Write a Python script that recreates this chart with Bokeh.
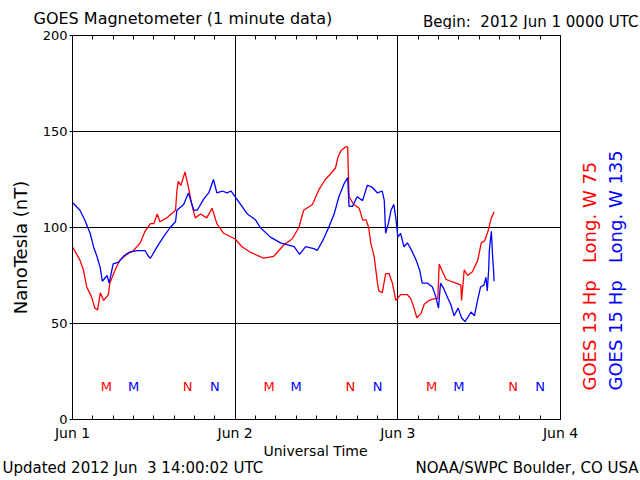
import math
from bokeh.plotting import figure
from bokeh.models import FixedTicker, LinearAxis, Label, Range1d, Grid
from bokeh.layouts import column, row
from bokeh.embed import file_html
from bokeh.resources import INLINE
from bokeh.core.properties import value

FONT = "DejaVu Sans"
NB = "\u00a0"

# hours since 2012 Jun 1 00:00 UTC
g13_hours = [0, 1.1, 1.6, 2.1, 2.8, 3.3, 3.7, 4.1, 4.6, 5.3, 5.5, 6.3, 7.0, 8.0, 9.0, 10.0,
             10.7, 11.5, 12.0, 12.5, 12.9, 13.9, 15.2, 15.4, 15.6, 16.0, 16.6, 17.1, 17.6,
             18.1, 18.9, 19.8, 20.6, 21.3, 22.3, 24.0, 25.0, 26.3, 27.6, 28.2, 29.7, 31.2,
             32.4, 33.4, 34.1, 35.4, 36.4, 37.3, 38.1, 38.8, 39.2, 39.6, 40.3, 40.6, 40.8,
             41.5, 42.3, 42.8, 43.3, 43.7, 44.0, 44.5, 45.0, 45.2, 45.7, 46.2, 46.7, 47.2,
             47.7, 48.4, 49.4, 49.9, 50.4, 50.8, 51.4, 51.9, 52.6, 53.4, 53.9, 54.1, 54.6,
             55.1, 55.8, 56.6, 57.3, 57.4, 57.6, 57.8, 58.3, 59.0, 59.8, 60.3, 60.8, 61.3,
             61.8, 62.2]
g13_nt = [90, 83, 78, 69, 64, 58, 57, 66, 62, 65, 71, 78, 83, 86, 88, 92,
          98, 102, 102, 107, 103, 105, 109, 119, 124, 122, 129, 121, 112,
          105, 107, 105, 110, 102, 97, 94, 90, 87, 85, 84, 85, 91,
          94, 100, 109, 112, 120, 125, 128, 131, 137, 140, 142, 142, 116,
          112, 110, 104, 104, 100, 92, 85, 71, 67, 66, 76, 76, 71,
          62, 65, 65, 63, 58, 53, 55, 60, 62, 63, 63, 81, 77,
          73, 72, 71, 70, 62, 70, 78, 75, 77, 83, 92, 93, 98,
          105, 108]

g15_hours = [0, 1.1, 1.8, 2.6, 3.1, 3.6, 4.1, 4.4, 5.1, 5.4, 6.0, 6.8, 7.5, 8.3, 9.5, 10.7,
             11.2, 11.5, 12.5, 13.4, 14.4, 15.2, 15.4, 16.4, 17.1, 17.9, 18.4, 19.4, 20.1,
             20.8, 21.3, 22.1, 22.8, 23.4, 24.0, 24.8, 25.8, 27.0, 27.7, 29.2, 30.7, 32.7,
             33.5, 34.4, 35.6, 36.1, 36.9, 37.8, 38.6, 39.3, 40.1, 40.6, 40.8, 41.3, 42.0,
             42.8, 43.5, 44.2, 45.0, 45.7, 46.0, 46.2, 46.6, 47.0, 47.4, 47.7, 48.0, 48.4,
             48.9, 49.4, 49.9, 50.7, 51.2, 51.6, 52.4, 53.1, 53.6, 54.0, 54.3, 54.8, 55.4,
             55.8, 56.3, 56.9, 57.4, 57.9, 58.3, 58.8, 59.3, 59.7, 60.2, 60.7, 61.0, 61.2,
             61.4, 61.5, 61.8, 62.0, 62.1, 62.2]
g15_nt = [113, 109, 104, 97, 90, 85, 79, 72, 75, 71, 81, 82, 85, 87, 88, 88,
          85, 84, 90, 95, 100, 103, 109, 112, 118, 109, 109, 115, 118,
          125, 118, 119, 118, 119, 116, 112, 107, 104, 100, 95, 92, 90,
          86, 90, 89, 88, 93, 100, 107, 116, 123, 126, 111, 111, 116,
          114, 122, 121, 118, 119, 114, 97, 102, 109, 112, 105, 95, 97,
          90, 92, 89, 83, 78, 71, 71, 69, 64, 58, 71, 68, 63,
          60, 54, 58, 53, 51, 53, 56, 54, 61, 69, 70, 74, 67,
          78, 88, 98, 84, 79, 72]

# local midnight (M) / noon (N) markers, hours
m13_hours = [5, 29, 53]
m15_hours = [9, 33, 57]
n13_hours = [17, 41, 65]
n15_hours = [21, 45, 69]
marker_level = 17

day_ticks = [0, 24, 48, 72]
day_labels = ["Jun 1", "Jun 2", "Jun 3", "Jun 4"]
y_ticks = [0, 50, 100, 150, 200]

RED = "#ff0000"
BLUE = "#0000ff"

W, H = 640, 480
FRAME_TOP, FRAME_BOTTOM = 35, 419          # canvas rows of the plot frame
TOP_H = 29
MAIN_TOP_BORDER = FRAME_TOP - TOP_H
MAIN_BOTTOM_BORDER = 24
MID_H = MAIN_TOP_BORDER + (FRAME_BOTTOM - FRAME_TOP) + MAIN_BOTTOM_BORDER
BOT_H = H - TOP_H - MID_H
LEFT_W, RIGHT_W = 35, 60
MAIN_W = W - LEFT_W - RIGHT_W


def blank(width, height):
    f = figure(width=width, height=height, output_backend="svg", toolbar_location=None,
               x_range=Range1d(0, 1), y_range=Range1d(0, 1), min_border=0,
               x_axis_location=None, y_axis_location=None)
    f.xgrid.visible = False
    f.ygrid.visible = False
    f.outline_line_color = None
    f.background_fill_color = "white"
    f.border_fill_color = "white"
    return f


def lab(f, x, y, text, size, align="left", color="black", angle=0.0):
    f.add_layout(Label(x=x, y=y, x_units="screen", y_units="screen", text=text,
                       text_font=FONT, text_font_size=size, text_align=align,
                       text_baseline="middle", text_color=color, angle=angle))


# ---- main plot ----
p = figure(width=MAIN_W, height=MID_H, output_backend="svg", toolbar_location=None,
           x_range=Range1d(0, 72), y_range=Range1d(0, 200),
           min_border_left=72 - LEFT_W, min_border_right=20,
           min_border_top=MAIN_TOP_BORDER, min_border_bottom=MAIN_BOTTOM_BORDER,
           x_axis_location=None, y_axis_location=None)
p.xgrid.visible = False
p.ygrid.visible = False
p.outline_line_color = "black"
p.outline_line_width = 1
p.background_fill_color = "white"
p.border_fill_color = "white"

minor = list(range(0, 73, 3))

bottom = LinearAxis(ticker=FixedTicker(ticks=day_ticks, minor_ticks=minor))
bottom.major_label_overrides = {t: l for t, l in zip(day_ticks, day_labels)}
bottom.major_tick_in = 0
bottom.major_tick_out = 0
bottom.minor_tick_in = 4
bottom.minor_tick_out = 0
bottom.major_label_standoff = 5
bottom.major_label_text_font = FONT
bottom.major_label_text_font_size = "14px"
bottom.major_label_text_color = "black"
bottom.axis_line_color = "black"
p.add_layout(bottom, "below")

top = LinearAxis(ticker=FixedTicker(ticks=[], minor_ticks=minor))
top.minor_tick_in = 4
top.minor_tick_out = 0
top.major_tick_in = 0
top.major_tick_out = 0
top.axis_line_color = "black"
p.add_layout(top, "above")

left = LinearAxis(ticker=FixedTicker(ticks=y_ticks, minor_ticks=[]))
left.major_tick_in = 0
left.major_tick_out = 3
left.minor_tick_in = 0
left.minor_tick_out = 0
left.major_label_standoff = 2
left.major_label_text_font = FONT
left.major_label_text_font_size = "13px"
left.major_label_text_color = "black"
left.axis_line_color = "black"
p.add_layout(left, "left")

p.add_layout(Grid(dimension=0, ticker=FixedTicker(ticks=[24, 48]),
                  grid_line_color="black", grid_line_width=1))
p.add_layout(Grid(dimension=1, ticker=FixedTicker(ticks=[50, 100, 150]),
                  grid_line_color="black", grid_line_width=1))

p.line(g13_hours, g13_nt, line_color=RED, line_width=1.3)
p.line(g15_hours, g15_nt, line_color=BLUE, line_width=1.3)

for hrs, txt, col in [(m13_hours, "M", RED), (m15_hours, "M", BLUE),
                      (n13_hours, "N", RED), (n15_hours, "N", BLUE)]:
    p.text(x=hrs, y=[marker_level] * len(hrs), text=[txt] * len(hrs),
           text_color=col, text_align="center", text_baseline="middle",
           text_font=value(FONT), text_font_size="13px")

# ---- surrounding text panels ----
top_f = blank(W, TOP_H)
lab(top_f, 33, TOP_H - 18, "GOES Magnetometer (1 minute data)", "16px")
lab(top_f, 638, TOP_H - 21, "Begin:" + NB + " 2012 Jun 1 0000 UTC", "15px", align="right")

# side panels share the main plot's frame rows (row layouts align frames)
left_f = blank(LEFT_W, MID_H)
lab(left_f, 20, FRAME_BOTTOM - 247, "NanoTesla (nT)", "18px", align="center",
    angle=math.pi / 2)

right_f = blank(RIGHT_W, MID_H)
lab(right_f, 9, FRAME_BOTTOM - 390, "GOES 13 Hp" + NB + NB + " Long. W 75", "18px",
    color=RED, angle=math.pi / 2)
lab(right_f, 35, FRAME_BOTTOM - 390, "GOES 15 Hp" + NB + NB + " Long. W 135", "18px",
    color=BLUE, angle=math.pi / 2)

bot_top = TOP_H + MID_H
bot_f = blank(W, BOT_H)
lab(bot_f, 315, H - 450, "Universal Time", "14px", align="center")
lab(bot_f, 2, H - 467, "Updated 2012 Jun" + NB + " 3 14:00:02 UTC", "15px")
lab(bot_f, 638, H - 467, "NOAA/SWPC Boulder, CO USA", "15px", align="right")

layout = column(top_f, row(left_f, p, right_f, spacing=0), bot_f, spacing=0)

open("out.html", "w").write(file_html(layout, INLINE))
